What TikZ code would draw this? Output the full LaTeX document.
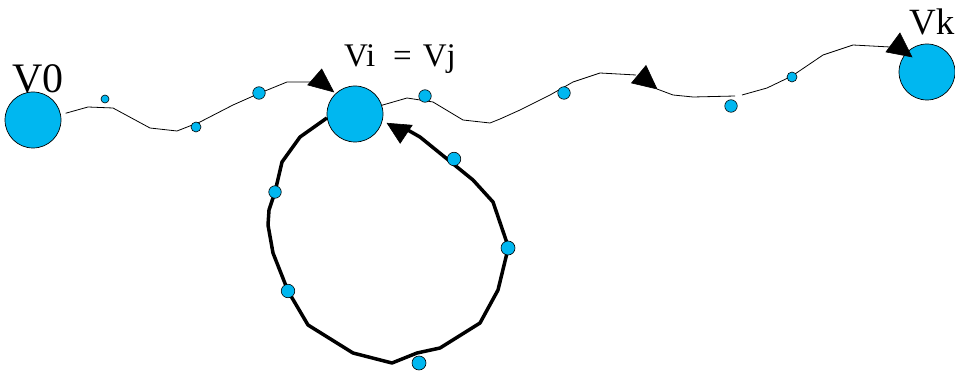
\documentclass[tikz,border=0pt]{standalone}
\usepackage{fontspec}
\setmainfont{Liberation Serif}
\usetikzlibrary{calc}
\definecolor{dotblue}{RGB}{0,183,240}
\begin{document}
\begin{tikzpicture}[x=1pt,y=-1pt,
  vertex/.style={circle,draw,fill=dotblue,line width=0.7pt,minimum size=56pt,inner sep=0pt},
  bead/.style={circle,draw,fill=dotblue,line width=0.6pt,inner sep=0pt,minimum size=#1},
  bead/.default=11pt,
  walk/.style={line width=0.8pt},
  cyc/.style={line width=3.5pt,line join=round},
  head/.style={fill=black,draw=black,line width=0.6pt,line join=miter},
  lbl/.style={anchor=base west,inner sep=0pt}]
\useasboundingbox (0,0) rectangle (955,374);

% the three named vertices
\node[vertex] (V0) at (33,120) {};
\node[vertex] (Vi) at (355,114) {};
\node[vertex] (Vk) at (927,72) {};

% labels
\node[lbl,font=\fontsize{42}{42}\selectfont] (l0) at (12,93) {V0};
\node[lbl,font=\fontsize{33}{33}\selectfont] (li) at (344,67) {Vi\hspace{18pt}=\hspace{11pt}Vj};
\node[lbl,font=\fontsize{37}{37}\selectfont] (lk) at (909,35) {Vk};

% arrow tip points
\coordinate (t1) at ($(Vi.center)!1.08!(Vi.134)$);
\coordinate (t2) at (657,89);
\coordinate (t3) at ($(Vk.center)!0.75!(Vk.135)$);
\coordinate (t4) at ($(Vi.center)!1.18!(Vi.-16)$);

% walk from V0 to Vi
\draw[walk,shorten <=5pt] (V0.11) -- (88,107) -- (113,108) -- (150,128) -- (177,131)
  -- (200,122) -- (233,105) -- (260,93) -- (287,82) -- (314,82);
\filldraw[head] (t1) -- ($(t1)+(-12,-23)$) -- ($(t1)+(-26,-7)$) -- cycle;

% walk from Vj to Vk, with an arrow half way
\draw[walk] (Vi.18) -- (407,98) -- (433,102) -- (463,120) -- (490,123) -- (500,119)
  -- (520,110) -- (550,95) -- (573,82) -- (600,73) -- (636,75);
\filldraw[head] (t2) -- ($(t2)+(-11,-23.5)$) -- ($(t2)+(-25.5,-6)$) -- cycle;
\draw[walk] (t2) -- (673,95) -- (693,97) -- (735,96);
\draw[walk] (742,95) -- (767,88) -- (792,76) -- (823,55) -- (853,45) -- (890,47);
\filldraw[head] (t3) -- ($(t3)+(-12,-24)$) -- ($(t3)+(-26,-5)$) -- cycle;

% cycle from Vi back to Vj
\draw[cyc] (Vi.188) -- (300,137) -- (282,162) -- (275,192)
  -- (269,210) -- (268,225) -- (273,253) -- (288,291) -- (308,325) -- (353,353) -- (392,363)
  -- (417,353) -- (440,348) -- (480,323) -- (498,290) -- (507,253) -- (507,243) -- (493,202)
  -- (473,180) -- (420,137) -- (406,129);
\filldraw[head] (t4) -- ($(t4)+(25,2)$) -- ($(t4)+(13,20)$) -- cycle;

% intermediate vertices
\node[bead=8pt] (a1) at (105,99) {};
\node[bead=10pt] (a2) at (196,127) {};
\node[bead=12.5pt] (a3) at (259,93) {};
\node[bead=12.5pt] (b1) at (425,96) {};
\node[bead=12.5pt] (b2) at (564,93) {};
\node[bead=12.5pt] (b3) at (731,106) {};
\node[bead=10pt] (b4) at (792,77) {};
\node[bead=12.5pt] (c1) at (275,192) {};
\node[bead=13.5pt] (c2) at (288,291) {};
\node[bead=14pt] (c3) at (419,363) {};
\node[bead=14pt] (c4) at (508,248) {};
\node[bead=13.5pt] (c5) at (454,159) {};
\end{tikzpicture}
\end{document}
